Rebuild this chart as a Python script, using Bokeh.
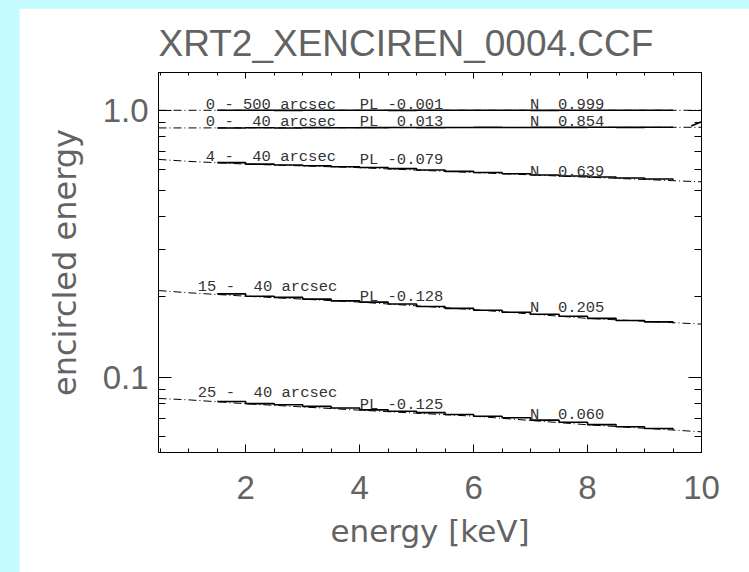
from bokeh.plotting import figure
from bokeh.models import FixedTicker, LinearAxis, LogAxis
from bokeh.core.properties import value
from bokeh.embed import file_html
from bokeh.resources import INLINE

# ---------------- data ----------------
title_text = "XRT2_XENCIREN_0004.CCF"
x_label = "energy [keV]"
y_label = "encircled energy"

x_ticks = [2, 4, 6, 8, 10]
x_minor = [0.5, 1.0, 1.5, 2.0, 2.5, 3.0, 3.5, 4.0, 4.5, 5.0, 5.5, 6.0, 6.5, 7.0, 7.5, 8.0, 8.5, 9.0, 9.5, 10.0]
y_ticks = [0.1, 1.0]
y_tick_labels = ["0.1", "1.0"]
y_minor = [0.06, 0.07, 0.08, 0.09, 0.2, 0.3, 0.4, 0.5, 0.6, 0.7, 0.8, 0.9]

# model curves (dash-dot), read at these energies
model_energy = [0.47, 1.0, 2.0, 4.0, 6.0, 8.0, 10.0]
model_0_500 = [0.999, 0.999, 0.999, 0.999, 0.999, 0.999, 0.999]
model_0_40 = [0.858, 0.858, 0.859, 0.860, 0.861, 0.862, 0.863]
model_4_40 = [0.654, 0.643, 0.628, 0.609, 0.584, 0.561, 0.539]
model_15_40 = [0.211, 0.207, 0.201, 0.191, 0.179, 0.166, 0.158]
model_25_40 = [0.0832, 0.0822, 0.0795, 0.0752, 0.0714, 0.0663, 0.0624]

# measured encircled energy (solid steps)
data_energy = [1.5, 2.0, 2.5, 3.0, 3.5, 4.0, 4.5, 5.0, 5.5, 6.0, 6.5, 7.0, 7.5, 8.0, 8.5, 9.0, 9.5]
data_0_500 = [0.999, 0.999, 0.998, 0.999, 0.999, 0.999, 0.998, 0.999, 0.999, 0.999, 0.999, 0.998, 0.999, 0.999, 0.999, 0.999, 0.999]
data_0_40 = [0.858, 0.859, 0.858, 0.860, 0.859, 0.860, 0.861, 0.860, 0.861, 0.862, 0.861, 0.862, 0.862, 0.863, 0.862, 0.863, 0.863]
data_4_40 = [0.636, 0.628, 0.623, 0.619, 0.614, 0.610, 0.604, 0.597, 0.590, 0.584, 0.578, 0.572, 0.567, 0.562, 0.557, 0.552, 0.548]
data_15_40 = [0.205, 0.201, 0.199, 0.196, 0.193, 0.191, 0.188, 0.184, 0.181, 0.178, 0.175, 0.172, 0.169, 0.166, 0.163, 0.161, 0.159]
data_25_40 = [0.0810, 0.0796, 0.0788, 0.0777, 0.0766, 0.0754, 0.0745, 0.0736, 0.0724, 0.0714, 0.0704, 0.0690, 0.0678, 0.0664, 0.0652, 0.0642, 0.0635]
tail_energy_0_40 = [9.82, 10.0]
tail_0_40 = [0.872, 0.905]

# annotations (non-breaking spaces keep the fixed-width alignment)
NB = "\u00a0"
range_labels = ["0 - 500 arcsec", "0 - " + NB + "40 arcsec", "4 - " + NB + "40 arcsec",
                "15 - " + NB + "40 arcsec", "25 - " + NB + "40 arcsec"]
range_x = [1.30, 1.30, 1.30, 1.16, 1.16]
range_y = [1.044, 0.904, 0.668, 0.218, 0.0869]
pl_labels = ["PL -0.001", "PL " + NB + "0.013", "PL -0.079", "PL -0.128", "PL -0.125"]
pl_x = [4.0, 4.0, 4.0, 4.0, 4.0]
pl_y = [1.044, 0.904, 0.650, 0.200, 0.0785]
n_labels = ["N " + NB + "0.999", "N " + NB + "0.854", "N " + NB + "0.639", "N " + NB + "0.205", "N " + NB + "0.060"]
n_x = [6.99, 6.99, 6.99, 6.99, 6.99]
n_y = [1.044, 0.904, 0.587, 0.181, 0.0721]

# ---------------- figure ----------------
TXT = "#636363"
p = figure(width=730, height=564, x_range=(0.47, 10.0), y_range=(0.0522, 1.384),
           y_axis_type="log", output_backend="svg", toolbar_location=None,
           min_border_left=139, min_border_right=48, min_border_top=64, min_border_bottom=120,
           background_fill_color="white", border_fill_color="white")
p.grid.visible = False
p.outline_line_color = "black"
p.outline_line_width = 1

p.title.text = title_text
p.title.align = "left"
p.title.text_font = "Liberation Sans"
p.title.text_font_size = "37px"
p.title.text_font_style = "normal"
p.title.text_color = TXT
p.title.text_line_height = 0.75
p.title.standoff = 18

def style_axis(ax, major_in, minor_in, labels=True):
    ax.axis_line_color = "black"
    ax.major_tick_line_color = "black"
    ax.minor_tick_line_color = "black"
    ax.major_tick_in = major_in
    ax.major_tick_out = 0
    ax.minor_tick_in = minor_in
    ax.minor_tick_out = 0
    if not labels:
        ax.major_label_text_font_size = "1px"
        ax.major_label_text_alpha = 0
        ax.major_label_standoff = 0

xa = p.xaxis[0]
xa.ticker = FixedTicker(ticks=x_ticks, minor_ticks=x_minor)
style_axis(xa, 8, 4)
xa.major_label_text_font = "Liberation Sans"
xa.major_label_text_font_size = "33px"
xa.major_label_text_color = TXT
xa.major_label_standoff = 23
xa.axis_label = x_label
xa.axis_label_text_font = "DejaVu Sans"
xa.axis_label_text_font_size = "31px"
xa.axis_label_text_font_style = "normal"
xa.axis_label_text_color = TXT
xa.axis_label_standoff = 11

ya = p.yaxis[0]
ya.ticker = FixedTicker(ticks=y_ticks, minor_ticks=y_minor)
ya.major_label_overrides = dict(zip(y_ticks, y_tick_labels))
style_axis(ya, 13, 7)
ya.major_label_text_font = "Liberation Sans"
ya.major_label_text_font_size = "33px"
ya.major_label_text_color = TXT
ya.major_label_standoff = 10
ya.axis_label = y_label
ya.axis_label_text_font = "DejaVu Sans"
ya.axis_label_text_font_size = "32px"
ya.axis_label_text_font_style = "normal"
ya.axis_label_text_color = TXT
ya.axis_label_standoff = 16

top = LinearAxis(ticker=FixedTicker(ticks=x_ticks, minor_ticks=x_minor))
style_axis(top, 6, 3, labels=False)
p.add_layout(top, "above")
right = LogAxis(ticker=FixedTicker(ticks=y_ticks, minor_ticks=y_minor))
style_axis(right, 13, 7, labels=False)
p.add_layout(right, "right")

# model curves
for m in [model_0_500, model_0_40, model_4_40, model_15_40, model_25_40]:
    p.line(model_energy, m, line_color="black", line_width=1, line_dash="8 3 1 3")

# data steps
for d in [data_0_500, data_0_40, data_4_40, data_15_40, data_25_40]:
    p.step(data_energy, d, mode="after", line_color="black", line_width=1.6)
p.line(tail_energy_0_40, tail_0_40, line_color="black", line_width=1.6)

for xs, ys, ts in [(range_x, range_y, range_labels), (pl_x, pl_y, pl_labels), (n_x, n_y, n_labels)]:
    p.text(x=xs, y=ys, text=ts, text_font=value("Liberation Mono"), text_font_size=value("15.5px"),
           text_baseline="alphabetic", text_align="left", text_color="#333333")

tmpl = ("{% block preamble %}<style>html,body{margin:0 !important;padding:0 !important;"
        "background:#c4fcff !important;} body{padding:8px 0 0 19px !important;}</style>{% endblock %}")
open("out.html", "w").write(file_html(p, INLINE, template=tmpl))
